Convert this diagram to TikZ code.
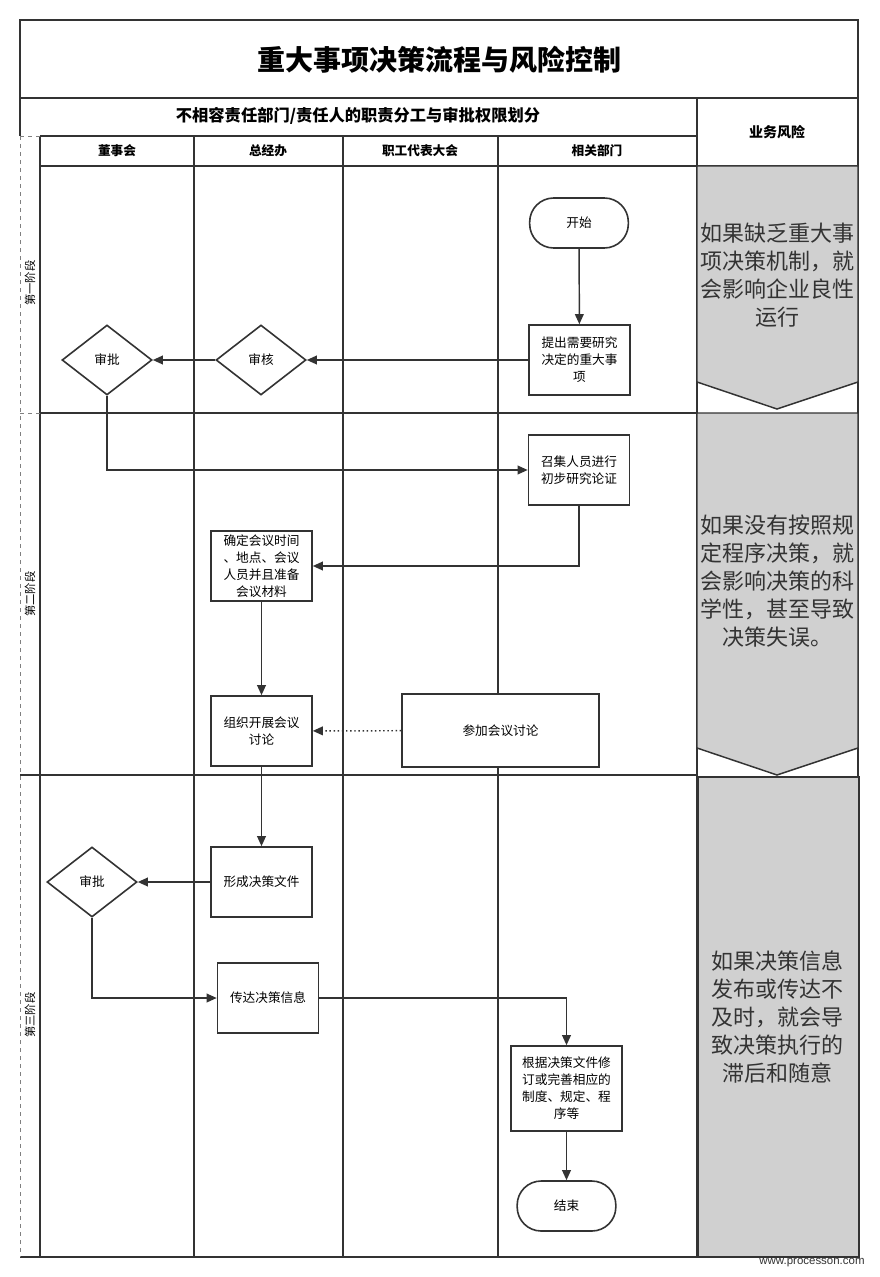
\documentclass[tikz,border=0pt]{standalone}
\usepackage{fontspec}
\setmainfont{Noto Sans CJK SC}
\newfontfamily\webfont{Liberation Sans}
\usetikzlibrary{shapes.geometric, arrows.meta}

\definecolor{linec}{RGB}{51,51,51}
\definecolor{riskgray}{RGB}{208,208,208}

\tikzset{
  frame/.style={draw=linec, line width=1.1pt},
  lane/.style={draw=linec, line width=0.8pt},
  flowbox/.style={draw=linec, line width=1.2pt, fill=white, align=center, inner sep=1pt,
    minimum width=75.75pt, minimum height=52.5pt, font=\fontsize{9.5}{12.75}\selectfont},
  decide/.style={diamond, draw=linec, line width=1.2pt, fill=white, inner sep=0pt, aspect=1.29,
    minimum width=67.5pt, minimum height=52.5pt, font=\fontsize{9.5}{12}\selectfont},
  terminal/.style={draw=linec, line width=1.2pt, fill=white, rounded corners=18pt,
    minimum width=74pt, minimum height=37.5pt, font=\fontsize{9.5}{12}\selectfont},
  flow/.style={draw=linec, line width=1.1pt, -{Triangle[length=7.5pt,width=6.5pt]}},
  risk/.style={draw=linec, line width=1.1pt, fill=riskgray},
  risktext/.style={align=center, text=linec, font=\fontsize{16.5}{21}\selectfont},
  phase/.style={rotate=90, font=\fontsize{8.5}{10}\selectfont},
  colhead/.style={font=\bfseries\fontsize{9.5}{12}\selectfont}
}

\begin{document}
\begin{tikzpicture}[x=0.75pt,y=0.75pt,yscale=-1,xscale=1]
\useasboundingbox (0,0) rectangle (879,1277);

%Shape: Title box
\draw[frame] (20,20) rectangle (858,98);
\node (title) at (439,60) {\bfseries\fontsize{21}{25}\selectfont 重大事项决策流程与风险控制};

%Shape: Header rows
\draw[frame] (20,98) -- (20,136);
\draw[frame] (20,98) -- (858,98);
\draw[frame] (40,136) -- (697,136);
\draw[frame] (40,166) -- (697,166);
\node (division) at (358,116) {\bfseries\fontsize{12.2}{15}\selectfont 不相容责任部门/责任人的职责分工与审批权限划分};
\node[colhead, font=\bfseries\fontsize{10.5}{12}\selectfont] (riskhead) at (777,132) {业务风险};
\node[colhead] (board) at (117,151) {董事会};
\node[colhead] (office) at (268,151) {总经办};
\node[colhead] (staff) at (420,151) {职工代表大会};
\node[colhead] (dept) at (597,151) {相关部门};

%Straight Lines: lanes
\draw[lane] (40,136) -- (40,1257);
\draw[lane] (194,136) -- (194,1257);
\draw[lane] (343,136) -- (343,1257);
\draw[lane] (498,136) -- (498,1257);
\draw[frame] (697,98) -- (697,1257);
\draw[frame] (858,98) -- (858,1257);
\draw[lane] (40,413) -- (697,413);
\draw[lane] (20,775) -- (697,775);
\draw[frame] (20,1257) -- (697,1257);
\draw[gray, dashed, line width=0.6pt] (20,136) -- (20,1257);
\draw[gray, dashed, line width=0.6pt] (20,136) -- (40,136);
\draw[gray, dashed, line width=0.6pt] (20,413) -- (40,413);
\draw[frame] (697,166) -- (858,166);

% Text Node: phases
\node[phase] (phaseA) at (30,283) {第一阶段};
\node[phase] (phaseB) at (30,594) {第二阶段};
\node[phase] (phaseC) at (30,1015) {第三阶段};

%Shape: risk column
\draw[risk] (697,166) -- (858,166) -- (858,382) -- (777,409) -- (697,382) -- cycle;
\draw[risk] (697,413) -- (858,413) -- (858,748) -- (777,775) -- (697,748) -- cycle;
\draw[risk] (698,777) rectangle (859,1257);
\node[risktext] (riskA) at (777,275) {如果缺乏重大事\\项决策机制，就\\会影响企业良性\\运行};
\node[risktext] (riskB) at (777,581) {如果没有按照规\\定程序决策，就\\会影响决策的科\\学性，甚至导致\\决策失误。};
\node[risktext] (riskC) at (777,1017) {如果决策信息\\发布或传达不\\及时，就会导\\致决策执行的\\滞后和随意};

% Text Node: flow
\node[terminal] (start) at (579,223) {开始};
\node[flowbox] (propose) at (579.5,360) {提出需要研究\\决定的重大事\\项};
\node[decide] (review) at (261,360) {审核};
\node[decide] (approveA) at (107,360) {审批};
\node[flowbox] (gather) at (579,470) {召集人员进行\\初步研究论证};
\node[flowbox] (prepare) at (261.5,566) {确定会议时间\\、地点、会议\\人员并且准备\\会议材料};
\node[flowbox] (organize) at (261.5,731) {组织开展会议\\讨论};
\node[flowbox, minimum width=147.75pt, minimum height=54.75pt] (attend) at (500.5,730.5) {参加会议讨论};
\node[flowbox] (document) at (261.5,882) {形成决策文件};
\node[decide] (approveB) at (92,882) {审批};
\node[flowbox] (convey) at (268,998) {传达决策信息};
\node[flowbox, minimum width=83.25pt, minimum height=63.75pt] (revise) at (566.5,1088.5) {根据决策文件修\\订或完善相应的\\制度、规定、程\\序等};
\node[terminal] (finish) at (566.5,1206) {结束};

%Straight Lines: connectors
\draw[flow] (start) -- (propose);
\draw[flow] (propose) -- (review);
\draw[flow] (review) -- (approveA);
\draw[flow] (approveA.south) |- (gather.west);
\draw[flow] (gather.south) |- (prepare.east);
\draw[flow] (prepare) -- (organize);
\draw[flow, dotted] (attend) -- (organize);
\draw[flow] (organize) -- (document);
\draw[flow] (document) -- (approveB);
\draw[flow] (approveB.south) |- (convey.west);
\draw[flow] (convey.east) -| (revise.north);
\draw[flow] (revise) -- (finish);

% Text Node: watermark
\node[text=linec] (site) at (812,1263) {\webfont\fontsize{8.6}{10}\selectfont www.processon.com};

\end{tikzpicture}
\end{document}
